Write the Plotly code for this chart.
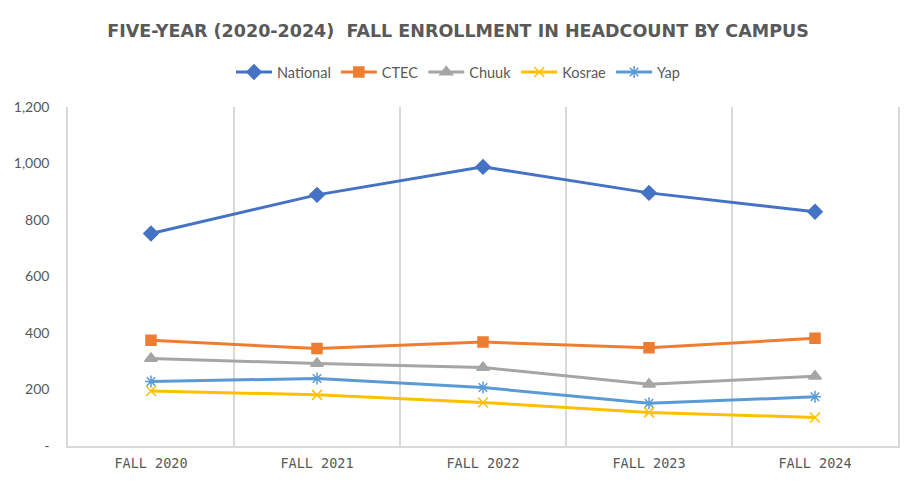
import plotly.graph_objects as go

categories = ["FALL 2020", "FALL 2021", "FALL 2022", "FALL 2023", "FALL 2024"]
national = [752, 889, 988, 896, 829]
ctec = [374, 345, 368, 348, 381]
chuuk = [310, 292, 278, 219, 247]
kosrae = [195, 181, 154, 119, 101]
yap = [228, 239, 207, 151, 174]

y_tickvals = [0, 200, 400, 600, 800, 1000, 1200]
y_ticktext = ["-", "200", "400", "600", "800", "1,000", "1,200"]

series = [
    ("National", national, "#4472C4", "diamond", 11),
    ("CTEC", ctec, "#ED7D31", "square", 10),
    ("Chuuk", chuuk, "#A5A5A5", "triangle-up", 11),
    ("Kosrae", kosrae, "#FFC000", "x-thin-open", 10),
    ("Yap", yap, "#5B9BD5", "asterisk-open", 10),
]

fig = go.Figure()
for name, vals, color, sym, size in series:
    fig.add_trace(go.Scatter(
        x=categories, y=vals, name=name, mode="lines+markers",
        line=dict(color=color, width=3),
        marker=dict(symbol=sym, size=size, color=color,
                    line=dict(color=color, width=1.5)),
    ))

# page has an 8px body margin: figure origin sits at (8, 8)
OFF = 8
W, H = 916 - OFF, 483 - OFF
font = "Lato, 'Open Sans', sans-serif"
fig.update_layout(
    width=W, height=H,
    margin=dict(l=68 - OFF, r=916 - 898, t=107 - OFF, b=483 - 446, autoexpand=False),
    paper_bgcolor="white", plot_bgcolor="white",
    font=dict(family=font, color="#595959", size=13),
    title=dict(
        text="<b>FIVE-YEAR (2020-2024)  FALL ENROLLMENT IN HEADCOUNT BY CAMPUS</b>",
        x=(458 - OFF) / W, xanchor="center", xref="container",
        y=1 - (31 - OFF) / H, yanchor="middle", yref="container",
        font=dict(family="'DejaVu Sans', sans-serif", size=17.5, color="#595959"),
        automargin=False,
    ),
    legend=dict(
        orientation="h", x=(458 - OFF) / W, xanchor="center", xref="container",
        y=1 - (72 - OFF) / H, yanchor="middle", yref="container",
        font=dict(family=font, size=14.5, color="#595959"),
        itemwidth=36, traceorder="normal",
    ),
    showlegend=True,
)
fig.update_xaxes(
    type="category", tickson="boundaries", range=[-0.5, 4.5],
    showgrid=True, gridcolor="#d9d9d9", gridwidth=1.5,
    showline=True, linecolor="#d9d9d9", linewidth=1.5,
    ticks="", automargin=False, ticklabelstandoff=4,
    tickfont=dict(family="'DejaVu Sans Mono', monospace", size=13.5, color="#595959"),
)
fig.update_yaxes(
    range=[0, 1200], tickvals=y_tickvals, ticktext=y_ticktext,
    showgrid=False, zeroline=False,
    showline=True, mirror=True, linecolor="#d9d9d9", linewidth=1.5,
    ticks="", ticklabelstandoff=14, automargin=False,
    tickfont=dict(family=font, size=14, color="#595959"),
)
fig.write_html("out.html")
